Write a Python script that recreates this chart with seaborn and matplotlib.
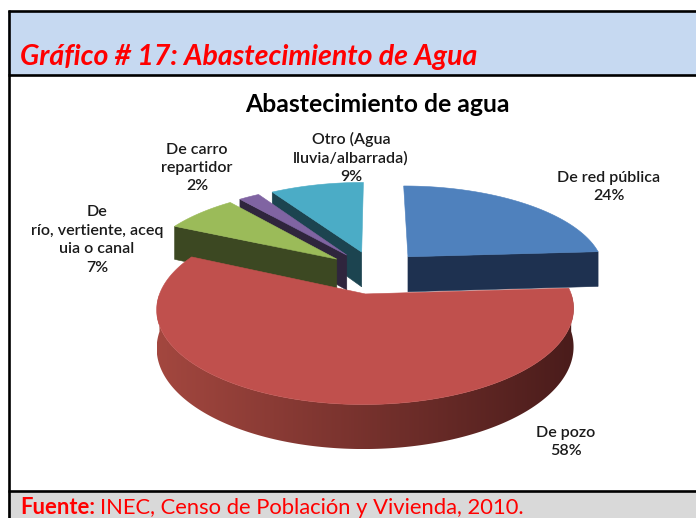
import numpy as np
import matplotlib
matplotlib.use("Agg")
import matplotlib.pyplot as plt
from matplotlib.patches import Rectangle, Polygon
from matplotlib.colors import to_rgb
import seaborn as sns

# Water supply categories and their shares (%)
categories = [
    "De red pública",
    "De pozo",
    "De río, vertiente, acequia o canal",
    "De carro repartidor",
    "Otro (Agua lluvia/albarrada)",
]
label_text = [
    "De red pública",
    "De pozo",
    "De\nrío, vertiente, aceq\nuia o canal",
    "De carro\nrepartidor",
    "Otro (Agua\nlluvia/albarrada)",
]
values = [24, 58, 7, 2, 9]

top_colors = sns.color_palette(["#4F81BD", "#C0504D", "#9BBB59", "#8064A2", "#4BACC6"])
side_light = ["#22375A", "#A3473F", "#404C24", "#342944", "#1F4A56"]
side_dark = ["#1E3150", "#4A1C1B", "#3C4822", "#2F253D", "#1C4450"]

sns.set_style("white")
plt.rcParams["font.family"] = ["Lato", "DejaVu Sans"]

W, H = 696, 518
fig = plt.figure(figsize=(W / 100, H / 100), dpi=100)
ax = fig.add_axes([0, 0, 1, 1])
ax.set_xlim(0, W)
ax.set_ylim(H, 0)
ax.axis("off")

# Page frame: header band, footer band and rules
ax.add_patch(Rectangle((8, 11), W - 8, 64, facecolor="#C6D9F1", edgecolor="none"))
ax.add_patch(Rectangle((8, 491), W - 8, 27, facecolor="#D9D9D9", edgecolor="none"))
ax.plot([8.5, 8.5], [10, H], color="black", lw=1.9, solid_capstyle="butt")
for yy in (11, 74.5, 491):
    ax.plot([8, W], [yy, yy], color="black", lw=1.9, solid_capstyle="butt")

ax.text(20, 57, "Gráfico # 17: Abastecimiento de Agua", color="#FF0000",
        fontsize=20.5, fontweight="bold", fontstyle="italic", va="center", ha="left")

# Pseudo-3D exploded pie with perspective
CX, CY = 375, 272
SX, SY, SZ = 198, 86, 36
D = 6.5
EXPLODE = 0.25


def proj(u, v, z):
    s = D / (D + v)
    return CX + SX * u * s, CY - (SY * v + SZ * z) * s


fracs = np.array(values, dtype=float) / sum(values)
edges = np.concatenate([[0.0], np.cumsum(fracs) * 360.0])

slices = []
for i in range(len(values)):
    a0, a1 = edges[i], edges[i + 1]
    am = np.radians((a0 + a1) / 2)
    slices.append((i, a0, a1, EXPLODE * np.sin(am), EXPLODE * np.cos(am)))

# back slices first
for i, a0, a1, ou, ov in sorted(slices, key=lambda s: -s[4]):
    n = max(8, int((a1 - a0) * 3))
    th = np.radians(np.linspace(a0, a1, n))
    us, vs = ou + np.sin(th), ov + np.cos(th)

    # radial walls facing the viewer
    for ang, normal in ((a0, a0 - 90), (a1, a1 + 90)):
        if np.cos(np.radians(normal)) < -0.02:
            r = np.radians(ang)
            eu, ev = ou + np.sin(r), ov + np.cos(r)
            pts = [proj(ou, ov, 0), proj(eu, ev, 0), proj(eu, ev, -1), proj(ou, ov, -1)]
            ax.add_patch(Polygon(pts, closed=True, facecolor=side_dark[i],
                                 edgecolor=side_dark[i], lw=0.4))

    # curved outer side, shaded left to right with a clipped gradient
    front = np.cos(th) < 0
    if front.sum() >= 2:
        fu, fv = us[front], vs[front]
        top = [proj(u, v, 0) for u, v in zip(fu, fv)]
        bot = [proj(u, v, -1) for u, v in zip(fu, fv)]
        side = Polygon(top + bot[::-1], closed=True, facecolor="none", edgecolor="none")
        ax.add_patch(side)
        xs = np.array([p[0] for p in top + bot])
        ys = np.array([p[1] for p in top + bot])
        x0, x1 = xs.min(), xs.max()
        tt = np.linspace(0, 1, 256)
        c0, c1 = np.array(to_rgb(side_light[i])), np.array(to_rgb(side_dark[i]))
        grad = (c0[None, :] + (c1 - c0)[None, :] * tt[:, None])[None, :, :]
        im = ax.imshow(grad, extent=(x0, x1, ys.max(), ys.min()), aspect="auto",
                       interpolation="bilinear", zorder=1)
        im.set_clip_path(side)

    # top face
    pts = [proj(ou, ov, 0)] + [proj(u, v, 0) for u, v in zip(us, vs)]
    ax.add_patch(Polygon(pts, closed=True, facecolor=top_colors[i],
                         edgecolor=top_colors[i], lw=0.4, zorder=1.5))

ax.set_xlim(0, W)
ax.set_ylim(H, 0)

ax.text(377, 105, "Abastecimiento de agua", fontsize=17.8, fontweight="bold",
        ha="center", va="center", color="black")

label_pos = [(609, 187), (566, 442), (97, 240), (197, 168), (351, 158)]
for i, (x, y) in enumerate(label_pos):
    ax.text(x, y, f"{label_text[i]}\n{values[i]}%", fontsize=11.5, fontweight="semibold",
            ha="center", va="center", multialignment="center", linespacing=1.4,
            color="#1A1A1A")

# Source line
t1 = ax.text(20, 508, "Fuente:", color="#FF0000", fontsize=15.8, fontweight="bold",
             va="center", ha="left")
fig.canvas.draw()
bb = t1.get_window_extent()
x_end = ax.transData.inverted().transform((bb.x1, 0))[0]
ax.text(x_end + 5, 508, "INEC, Censo de Población y Vivienda, 2010.", color="#FF0000",
        fontsize=15.8, va="center", ha="left")

fig.savefig("out.png", dpi=100)
